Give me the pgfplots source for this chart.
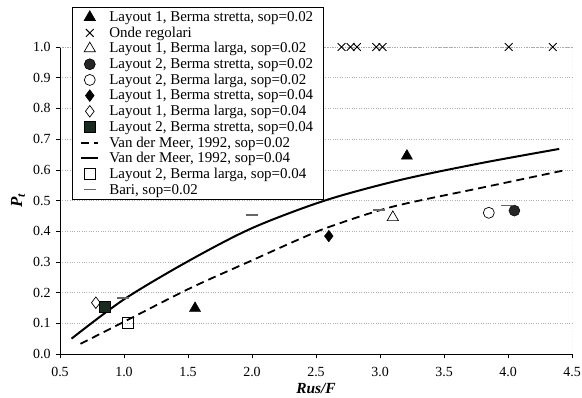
\documentclass[border=0pt]{standalone}
\usepackage{fontspec}
\setmainfont{Liberation Serif}
\usepackage{pgfplots}
\pgfplotsset{compat=1.18}
\definecolor{sqgreen}{rgb}{0.10,0.17,0.13}
\begin{document}
\begin{tikzpicture}[x=1bp,y=1bp]
\useasboundingbox (-60,-43) rectangle (522,354);
\begin{axis}[
  at={(0,0)}, anchor=south west, scale only axis,
  width=512bp, height=307bp,
  xmin=0.5, xmax=4.5, ymin=0, ymax=1,
  axis x line*=bottom, axis y line*=left,
  axis line style={black, line width=0.8bp},
  xtick={0.5,1.0,1.5,2.0,2.5,3.0,3.5,4.0,4.5},
  ytick={0,0.1,0.2,0.3,0.4,0.5,0.6,0.7,0.8,0.9,1.0},
  ymajorgrids, grid style={gray!60, dotted},
  tick align=outside, major tick length=4bp,
  tick style={black, line width=0.6bp},
  /pgf/number format/assume math mode=true,
  xticklabel={\pgfmathprintnumber[fixed,fixed zerofill,precision=1]{\tick}},
  yticklabel={\pgfmathprintnumber[fixed,fixed zerofill,precision=1]{\tick}},
  ticklabel style={font=\fontsize{14}{15}\selectfont},
  xticklabel style={yshift=-6bp},
  yticklabel style={xshift=-2bp},
  xlabel={\textbf{\textit{Rus/F}}},
  ylabel={\textbf{\textit{P\textsubscript{t}}}},
  xlabel style={at={(axis description cs:0.5,-0.113)}, anchor=center, font=\fontsize{15.5}{16}\selectfont},
  ylabel style={at={(axis description cs:-0.082,0.5)}, anchor=center, font=\fontsize{17}{18}\selectfont},
  legend cell align=left,
  legend style={at={(axis description cs:0.0234,1.130)}, anchor=north west,
    draw=black, line width=0.6bp, fill=white,
    font=\fontsize{15}{16}\selectfont, column sep=8bp,
    inner xsep=8bp, inner ysep=2bp,
    cells={inner xsep=2bp, inner ysep=0.3bp, text height=10.2bp, text depth=4.1bp}},
]
\draw[gray!70, dotted, line width=0.6bp] (rel axis cs:0,1) -- (rel axis cs:1,1) -- (rel axis cs:1,0);

\addplot[only marks, mark=triangle*, mark size=6.5bp, black] coordinates {(1.555,0.149) (3.21,0.645)};
\addlegendentry{Layout 1, Berma stretta, sop=0.02}
\addplot[only marks, mark=x, mark size=5.5bp, black, line width=0.9bp] coordinates {(2.70,1) (2.77,1) (2.82,1) (2.97,1) (3.02,1) (4.005,1) (4.35,1)};
\addlegendentry{Onde regolari}
\addplot[only marks, mark=triangle, mark size=6.5bp, black, line width=0.7bp, mark options={fill=white}] coordinates {(3.10,0.445)};
\addlegendentry{Layout 1, Berma larga, sop=0.02}
\addplot[only marks, mark=*, mark size=5.5bp, black, mark options={fill=black!85}] coordinates {(4.05,0.467)};
\addlegendentry{Layout 2, Berma stretta, sop=0.02}
\addplot[only marks, mark=o, mark size=5.5bp, black, line width=0.7bp, mark options={fill=white}] coordinates {(3.85,0.46)};
\addlegendentry{Layout 2, Berma larga, sop=0.02}
\addplot[only marks, mark=diamond*, mark size=5.8bp, black] coordinates {(2.60,0.384)};
\addlegendentry{Layout 1, Berma stretta, sop=0.04}
\addplot[only marks, mark=diamond, mark size=5.8bp, black, line width=0.7bp, mark options={fill=white}] coordinates {(0.78,0.167)};
\addlegendentry{Layout 1, Berma larga, sop=0.04}
\addplot[only marks, mark=square*, mark size=5.5bp, black, mark options={fill=sqgreen}] coordinates {(0.846,0.154)};
\addlegendentry{Layout 2, Berma stretta, sop=0.04}
\addplot[black, line width=1.8bp, dash pattern=on 8bp off 5bp, smooth] coordinates {
(0.66,0.033) (1.0,0.105) (1.52,0.215) (2.0,0.305) (2.375,0.375) (2.61,0.415) (3.1,0.48) (3.81,0.543) (4.46,0.60)};
\addlegendentry{Van der Meer, 1992, sop=0.02}
\addplot[black, line width=2bp, smooth] coordinates {
(0.59,0.05) (1.0,0.178) (1.5,0.302) (2.0,0.410) (2.57,0.50) (3.16,0.567) (3.78,0.621) (4.4,0.668)};
\addlegendentry{Van der Meer, 1992, sop=0.04}
\addplot[only marks, mark=square, mark size=5.5bp, black, line width=0.7bp, mark options={fill=white}] coordinates {(1.03,0.103)};
\addlegendentry{Layout 2, Berma larga, sop=0.04}
\addplot[only marks, mark=-, mark size=6bp, black!60, line width=1.5bp] coordinates {(0.995,0.183) (2.0,0.453) (2.99,0.469) (3.99,0.483)};
\addlegendentry{Bari, sop=0.02}
\end{axis}
\end{tikzpicture}
\end{document}
